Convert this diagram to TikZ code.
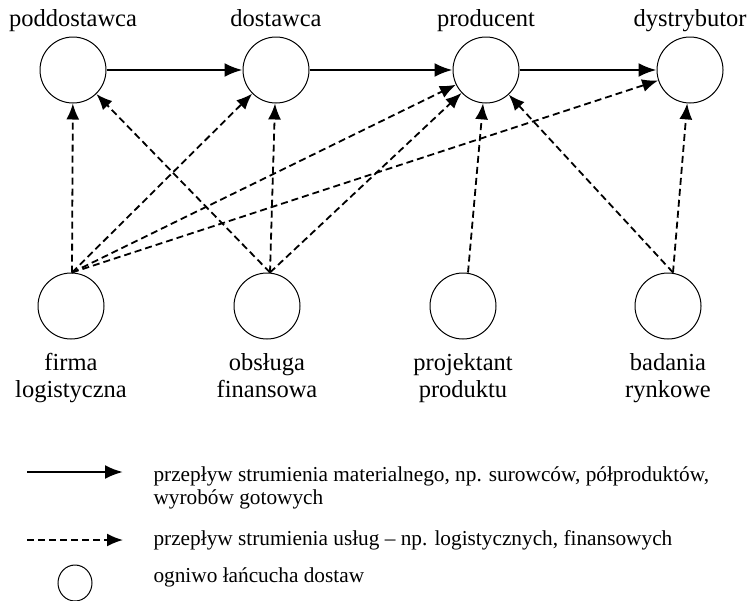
\documentclass[tikz,border=0pt]{standalone}
\usepackage{fontspec}
\setmainfont{Liberation Serif}
\usetikzlibrary{arrows.meta, shapes.geometric}

\begin{document}
\begin{tikzpicture}[x=1pt, y=-1pt,
        link/.style={circle, draw, line width=1pt, minimum size=66pt, inner sep=0pt},
        material/.style={line width=2.5pt, -{Latex[length=18pt, width=14pt]}},
        service/.style={line width=1.8pt, dash pattern=on 7pt off 4pt, -{Latex[length=16pt, width=13pt]}}]
        \useasboundingbox (0,0) rectangle (751,600);
        \begin{scope}[every node/.style={link}]
            \node (podd) at (73, 70) {};
            \node (dost) at (276, 70) {};
            \node (prod) at (486, 70) {};
            \node (dystr) at (690, 70) {};
            \node (firma) at (71, 306) {};
            \node (obsl) at (267, 306) {};
            \node (proj) at (463, 306) {};
            \node (bad) at (668, 306) {};
        \end{scope}

        \begin{scope}[every node/.style={font=\fontsize{24.5}{27}\selectfont, align=center, anchor=base}]
            \node (t1) at (73, 26) {poddostawca};
            \node (t2) at (276, 26) {dostawca};
            \node (t3) at (486, 26) {producent};
            \node (t4) at (690, 26) {dystrybutor};
            \node (t5) at (71, 397) {firma\\logistyczna};
            \node (t6) at (267, 397) {obsługa\\finansowa};
            \node (t7) at (463, 397) {projektant\\produktu};
            \node (t8) at (668, 397) {badania\\rynkowe};
        \end{scope}

        \draw[material] (podd) -- (dost);
        \draw[material] (dost) -- (prod);
        \draw[material] (prod) -- (dystr);

        \draw[service] ([xshift=1pt]firma.north) -- (podd);
        \draw[service] ([xshift=1pt]firma.north) -- (dost);
        \draw[service] ([xshift=1pt]firma.north) -- (prod);
        \draw[service] ([xshift=1pt]firma.north) -- (dystr);
        \draw[service] ([xshift=3pt]obsl.north) -- (podd);
        \draw[service] ([xshift=3pt]obsl.north) -- (dost);
        \draw[service] ([xshift=3pt]obsl.north) -- (prod);
        \draw[service] ([xshift=5pt]proj.north) -- (prod);
        \draw[service] ([xshift=5pt]bad.north) -- (prod);
        \draw[service] ([xshift=5pt]bad.north) -- (dystr);

        % legenda
        \coordinate (l1a) at (27, 472);
        \coordinate (l1b) at (123, 472);
        \coordinate (l2a) at (27, 540);
        \coordinate (l2b) at (123, 540);
        \draw[material] (l1a) -- (l1b);
        \draw[service] (l2a) -- (l2b);
        \node[ellipse, draw, line width=1pt, minimum width=34pt, minimum height=36pt, inner sep=0pt] (key) at (75, 583) {};
        \begin{scope}[every node/.style={font=\fontsize{21.3}{23}\selectfont, align=left, anchor=base west}]
            \node (k1) at (150, 504) {przepływ strumienia materialnego, np. surowców, półproduktów,\\wyrobów gotowych};
            \node (k2) at (150, 545) {przepływ strumienia usług – np. logistycznych, finansowych};
            \node (k3) at (150, 582) {ogniwo łańcucha dostaw};
        \end{scope}
    \end{tikzpicture}
\end{document}
